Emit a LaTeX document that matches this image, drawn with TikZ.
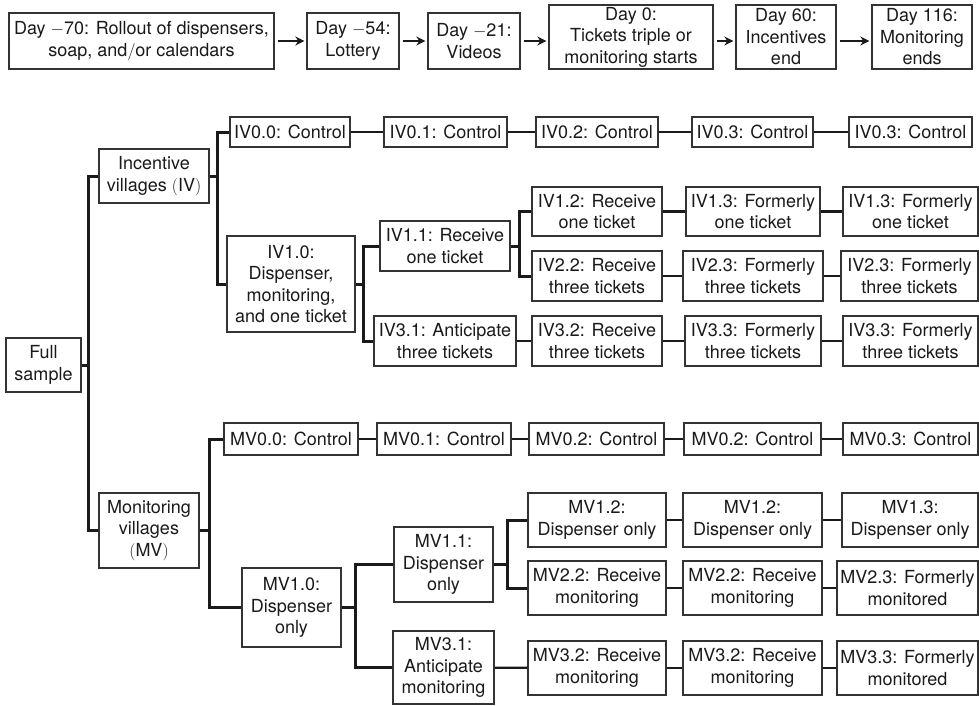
\documentclass[tikz,border=0pt]{standalone}
\usepackage{fontspec}
\setmainfont{TeX Gyre Heros}
\usetikzlibrary{arrows.meta,calc}
\definecolor{ink}{HTML}{1A1A1A}
\definecolor{edge}{HTML}{333333}
\newcommand\bx[6]{\node[box, minimum width={#4pt-#2pt}, minimum height={#5pt-#3pt}] (#1) at ({(#2+#4)/2},{(#3+#5)/2}) {#6};}
\begin{document}
\begin{tikzpicture}[x=1pt,y=-1pt,
  box/.style={draw=edge, line width=1.3pt, fill=white, inner sep=0pt, align=center, text=ink,
    font=\fontsize{18}{21.5}\selectfont},
  rowline/.style={draw=ink, line width=2.2pt},
  treeline/.style={draw=ink, line width=3pt},
  arr/.style={draw=ink, line width=2.6pt, -{Stealth[length=9pt,width=9pt]}, shorten <=3pt, shorten >=2pt}]
\useasboundingbox (0,0) rectangle (979,706);
% timeline
\bx{t1}{9}{13}{274}{69}{Day $-$70: Rollout of dispensers,\\ soap, and$/$or calendars}
\bx{t2}{307}{13}{399}{69}{Day $-$54:\\Lottery}
\bx{t3}{428}{13}{520}{69}{Day $-$21:\\Videos}
\bx{t4}{549}{5}{713}{69}{Day 0:\\Tickets triple or\\monitoring starts}
\bx{t5}{736}{5}{836}{69}{Day 60:\\Incentives\\end}
\bx{t6}{872}{5}{972}{69}{Day 116:\\Monitoring\\ends}
\draw[arr] (t1.east) -- (t2.west);
\draw[arr] (t2.east) -- (t3.west);
\draw[arr] (t3.east) -- (t3.east -| t4.west);
\draw[arr] (t4.east |- t1.east) -- (t5.west |- t1.east);
\draw[arr] (t5.east |- t1.east) -- (t6.west |- t1.east);
% tree boxes
\bx{full}{6}{338}{81}{392}{Full\\sample}
\bx{iv}{99}{149}{209}{203}{Incentive\\villages $($IV$)$}
\bx{mv}{99}{493}{199}{568}{Monitoring\\villages\\$($MV$)$}
\bx{iv00}{230}{117}{350}{147}{IV0.0: Control}
\bx{iv01}{384}{117}{507}{147}{IV0.1: Control}
\bx{iv02}{536}{117}{658}{147}{IV0.2: Control}
\bx{iv03}{692}{117}{813}{147}{IV0.3: Control}
\bx{iv04}{849}{117}{972}{147}{IV0.3: Control}
\bx{iv10}{227}{236}{355}{332}{IV1.0:\\Dispenser,\\monitoring,\\and one ticket}
\bx{iv11}{380}{221}{510}{271}{IV1.1: Receive\\one ticket}
\bx{iv31}{374}{316}{516}{366}{IV3.1: Anticipate\\three tickets}
\bx{iv12}{532}{187}{662}{236}{IV1.2: Receive\\one ticket}
\bx{iv13}{686}{187}{820}{236}{IV1.3: Formerly\\one ticket}
\bx{iv14}{843}{187}{978}{236}{IV1.3: Formerly\\one ticket}
\bx{iv22}{532}{251}{662}{301}{IV2.2: Receive\\three tickets}
\bx{iv23}{683}{251}{823}{301}{IV2.3: Formerly\\three tickets}
\bx{iv24}{841}{251}{978}{301}{IV2.3: Formerly\\three tickets}
\bx{iv32}{532}{316}{662}{366}{IV3.2: Receive\\three tickets}
\bx{iv33}{685}{316}{821}{366}{IV3.3: Formerly\\three tickets}
\bx{iv34}{843}{316}{978}{366}{IV3.3: Formerly\\three tickets}
\bx{mv00}{224}{423}{358}{455}{MV0.0: Control}
\bx{mv01}{377}{423}{511}{455}{MV0.1: Control}
\bx{mv02}{529}{423}{664}{455}{MV0.2: Control}
\bx{mv03}{684}{423}{821}{455}{MV0.2: Control}
\bx{mv04}{843}{423}{978}{455}{MV0.3: Control}
\bx{mv10}{242}{568}{341}{647}{MV1.0:\\Dispenser\\only}
\bx{mv11}{394}{527}{493}{602}{MV1.1:\\Dispenser\\only}
\bx{mv31}{393}{631}{494}{704}{MV3.1:\\Anticipate\\monitoring}
\bx{mv12}{528}{493}{666}{547}{MV1.2:\\Dispenser only}
\bx{mv13}{683}{493}{822}{547}{MV1.2:\\Dispenser only}
\bx{mv14}{842}{493}{978}{547}{MV1.3:\\Dispenser only}
\bx{mv22}{528}{561}{666}{615}{MV2.2: Receive\\monitoring}
\bx{mv23}{683}{561}{822}{615}{MV2.2: Receive\\monitoring}
\bx{mv24}{837}{561}{978}{615}{MV2.3: Formerly\\monitored}
\bx{mv32}{528}{641}{666}{695}{MV3.2: Receive\\monitoring}
\bx{mv33}{683}{641}{822}{695}{MV3.2: Receive\\monitoring}
\bx{mv34}{837}{641}{978}{695}{MV3.3: Formerly\\monitored}
% branch points
\coordinate (v0) at (88,365);
\coordinate (v1) at (217,176);
\coordinate (v2) at (363,284);
\coordinate (v3) at (519,246);
\coordinate (v4) at (209,530.5);
\coordinate (v5) at (355,607.5);
\coordinate (v6) at (507,564.5);
\draw[treeline] (full.east) -- (v0);
\draw[treeline] (iv.west) -| (v0) |- (mv.west);
\draw[treeline] (iv.east) -- (v1);
\draw[treeline] (iv00.west) -| (v1) |- (iv10.west);
\draw[treeline] (iv10.east) -- (v2);
\draw[treeline] (iv11.west) -| (v2) |- (iv31.west);
\draw[treeline] (iv11.east) -- (v3);
\draw[treeline] (iv12.west) -| (v3) |- (iv22.west);
\draw[treeline] (mv.east) -- (v4);
\draw[treeline] (mv00.west) -| (v4) |- (mv10.west);
\draw[treeline] (mv10.east) -- (v5);
\draw[treeline] (mv11.west) -| (v5) |- (mv31.west);
\draw[treeline] (mv11.east) -- (v6);
\draw[treeline] (mv12.west) -| (v6) |- (mv22.west);
% row connectors
\draw[rowline] (iv00) -- (iv01);
\draw[rowline] (iv01) -- (iv02);
\draw[rowline] (iv02) -- (iv03);
\draw[rowline] (iv03) -- (iv04);
\draw[rowline] (iv12) -- (iv13);
\draw[rowline] (iv13) -- (iv14);
\draw[rowline] (iv22) -- (iv23);
\draw[rowline] (iv23) -- (iv24);
\draw[rowline] (iv31) -- (iv32);
\draw[rowline] (iv32) -- (iv33);
\draw[rowline] (iv33) -- (iv34);
\draw[rowline] (mv00) -- (mv01);
\draw[rowline] (mv01) -- (mv02);
\draw[rowline] (mv02) -- (mv03);
\draw[rowline] (mv03) -- (mv04);
\draw[rowline] (mv12) -- (mv13);
\draw[rowline] (mv13) -- (mv14);
\draw[rowline] (mv22) -- (mv23);
\draw[rowline] (mv23) -- (mv24);
\draw[rowline] (mv31) -- (mv32);
\draw[rowline] (mv32) -- (mv33);
\draw[rowline] (mv33) -- (mv34);
\end{tikzpicture}
\end{document}
